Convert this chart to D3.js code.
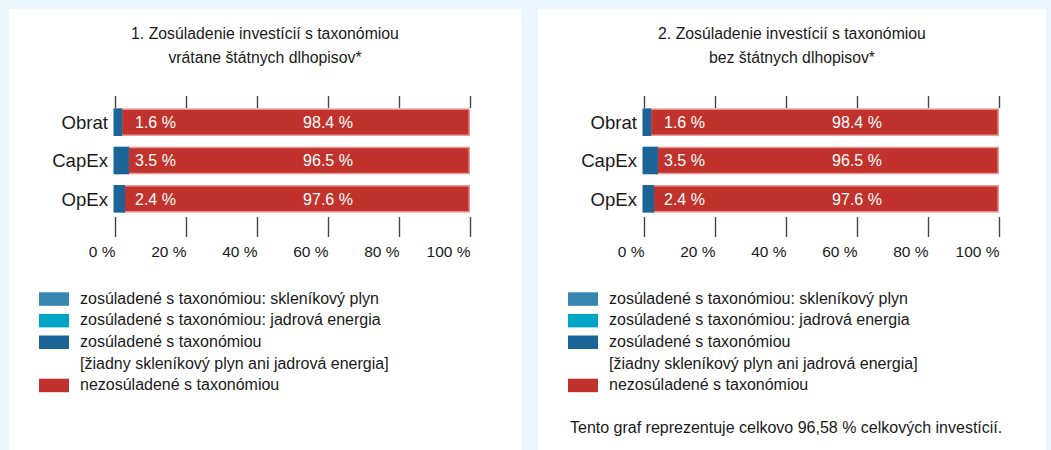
<!DOCTYPE html>
<html><head><meta charset="utf-8">
<script src="https://cdn.jsdelivr.net/npm/d3@7"></script>
<style>
html,body{margin:0;padding:0;background:#ebf6fd;}
svg{display:block;font-family:"Liberation Sans",Arial,sans-serif;}
</style></head>
<body>
<svg id="chart" width="1051" height="450"></svg>
<script>
const categories = ["Obrat", "CapEx", "OpEx"];
const tickValues = [0, 20, 40, 60, 80, 100];
const tickLabels = ["0 %", "20 %", "40 %", "60 %", "80 %", "100 %"];
const titles1 = ["1. Zosúladenie investícií s taxonómiou", "vrátane štátnych dlhopisov*"];
const titles2 = ["2. Zosúladenie investícií s taxonómiou", "bez štátnych dlhopisov*"];
// panel 1 series
const p1Gas = [0, 0, 0];
const p1Nuclear = [0, 0, 0];
const p1Aligned = [1.6, 3.5, 2.4];
const p1NotAligned = [98.4, 96.5, 97.6];
// panel 2 series
const p2Gas = [0, 0, 0];
const p2Nuclear = [0, 0, 0];
const p2Aligned = [1.6, 3.5, 2.4];
const p2NotAligned = [98.4, 96.5, 97.6];
const legendLabels = [
  ["zosúladené s taxonómiou: skleníkový plyn"],
  ["zosúladené s taxonómiou: jadrová energia"],
  ["zosúladené s taxonómiou", "[žiadny skleníkový plyn ani jadrová energia]"],
  ["nezosúladené s taxonómiou"]
];
const footnote = "Tento graf reprezentuje celkovo 96,58 % celkových investícií.";

const colors = ["#3786b2", "#00a5c6", "#1a6497", "#c1322d"];

const svg = d3.select("#chart");

function panel(px, pw, titles, series, note) {
  const g = svg.append("g");
  g.append("rect").attr("x", px).attr("y", 9).attr("width", pw).attr("height", 450).attr("fill", "#fff");

  const cx = px + pw / 2;
  titles.forEach((t, i) => {
    g.append("text").attr("x", cx).attr("y", 38.5 + i * 24).attr("text-anchor", "middle")
      .attr("font-size", 15.8).attr("fill", "#1a1a1a").text(t);
  });

  const x = d3.scaleLinear().domain([0, 100]).range([px + 106, px + 461]);
  const y = d3.scaleBand().domain(categories).range([103, 218]).paddingInner(0.28).paddingOuter(0.14);

  // top ticks
  const topAx = g.append("g").attr("transform", "translate(0,108)")
    .call(d3.axisTop(x).tickValues(tickValues).tickSize(12).tickFormat(""));
  topAx.select(".domain").remove();
  topAx.selectAll("line").attr("stroke", "#444").attr("stroke-width", 1.4);

  const botAx = g.append("g").attr("transform", "translate(0,217)")
    .call(d3.axisBottom(x).tickValues(tickValues).tickSize(20).tickFormat((d, i) => tickLabels[i]));
  botAx.select(".domain").remove();
  botAx.selectAll("line").attr("stroke", "#444").attr("stroke-width", 1.4);
  botAx.selectAll("text").attr("text-anchor", "end").attr("x", 0).attr("y", 39.5).attr("dy", 0)
    .attr("font-size", 15.5).attr("fill", "#1a1a1a").attr("font-family", "Liberation Sans, Arial, sans-serif");

  // stacked bars
  const rows = categories.map((c, i) => ({cat: c, gas: series[0][i], nuc: series[1][i], al: series[2][i], na: series[3][i]}));
  const stack = d3.stack().keys(["gas", "nuc", "al", "na"])(rows);
  const strokes = ["#3786b2", "#00a5c6", "#1a6497", "#e89a97"];
  const widths = [3, 3, 3, 1.5];
  [3, 0, 1, 2].forEach(k => {
    const layer = stack[k];
    g.append("g").selectAll("rect").data(layer.filter(d => d[1] - d[0] > 0)).join("rect")
      .attr("x", d => x(d[0]) + (k === 3 ? 0.75 : 0))
      .attr("width", d => x(d[1]) - x(d[0]) - (k === 3 ? 1.5 : 0))
      .attr("y", d => y(d.data.cat) + (k === 3 ? 0.75 : 1.5))
      .attr("height", y.bandwidth() - (k === 3 ? 1.5 : 3))
      .attr("fill", colors[k]).attr("stroke", strokes[k]).attr("stroke-width", widths[k]);
  });

  // bar labels
  rows.forEach(r => {
    const cy = y(r.cat) + y.bandwidth() / 2;
    g.append("text").attr("x", x(0) + 20).attr("y", cy).attr("dy", "0.36em")
      .attr("font-size", 16).attr("fill", "#fff").text(d3.format(".1f")(r.gas + r.nuc + r.al) + " %");
    g.append("text").attr("x", x(60)).attr("y", cy).attr("dy", "0.36em").attr("text-anchor", "middle")
      .attr("font-size", 16).attr("fill", "#fff").text(d3.format(".1f")(r.na) + " %");
    g.append("text").attr("x", x(0) - 7).attr("y", cy).attr("dy", "0.36em").attr("text-anchor", "end")
      .attr("font-size", 18.6).attr("fill", "#1a1a1a").text(r.cat);
  });

  // legend
  let row = 0;
  legendLabels.forEach((lines, i) => {
    const top = 292.3 + row * 21.6;
    g.append("rect").attr("x", px + 30).attr("y", top).attr("width", 30).attr("height", 13.5).attr("fill", colors[i]);
    lines.forEach((t, j) => {
      g.append("text").attr("x", px + 71).attr("y", top + 11.5 + j * 21.6).attr("font-size", 16)
        .attr("fill", "#1a1a1a").text(t);
    });
    row += lines.length;
  });

  if (note) {
    g.append("text").attr("x", px + 32).attr("y", 433).attr("font-size", 16).attr("fill", "#1a1a1a").text(note);
  }
}

panel(9, 512, titles1, [p1Gas, p1Nuclear, p1Aligned, p1NotAligned], null);
panel(538, 508, titles2, [p2Gas, p2Nuclear, p2Aligned, p2NotAligned], footnote);
</script>
</body></html>
